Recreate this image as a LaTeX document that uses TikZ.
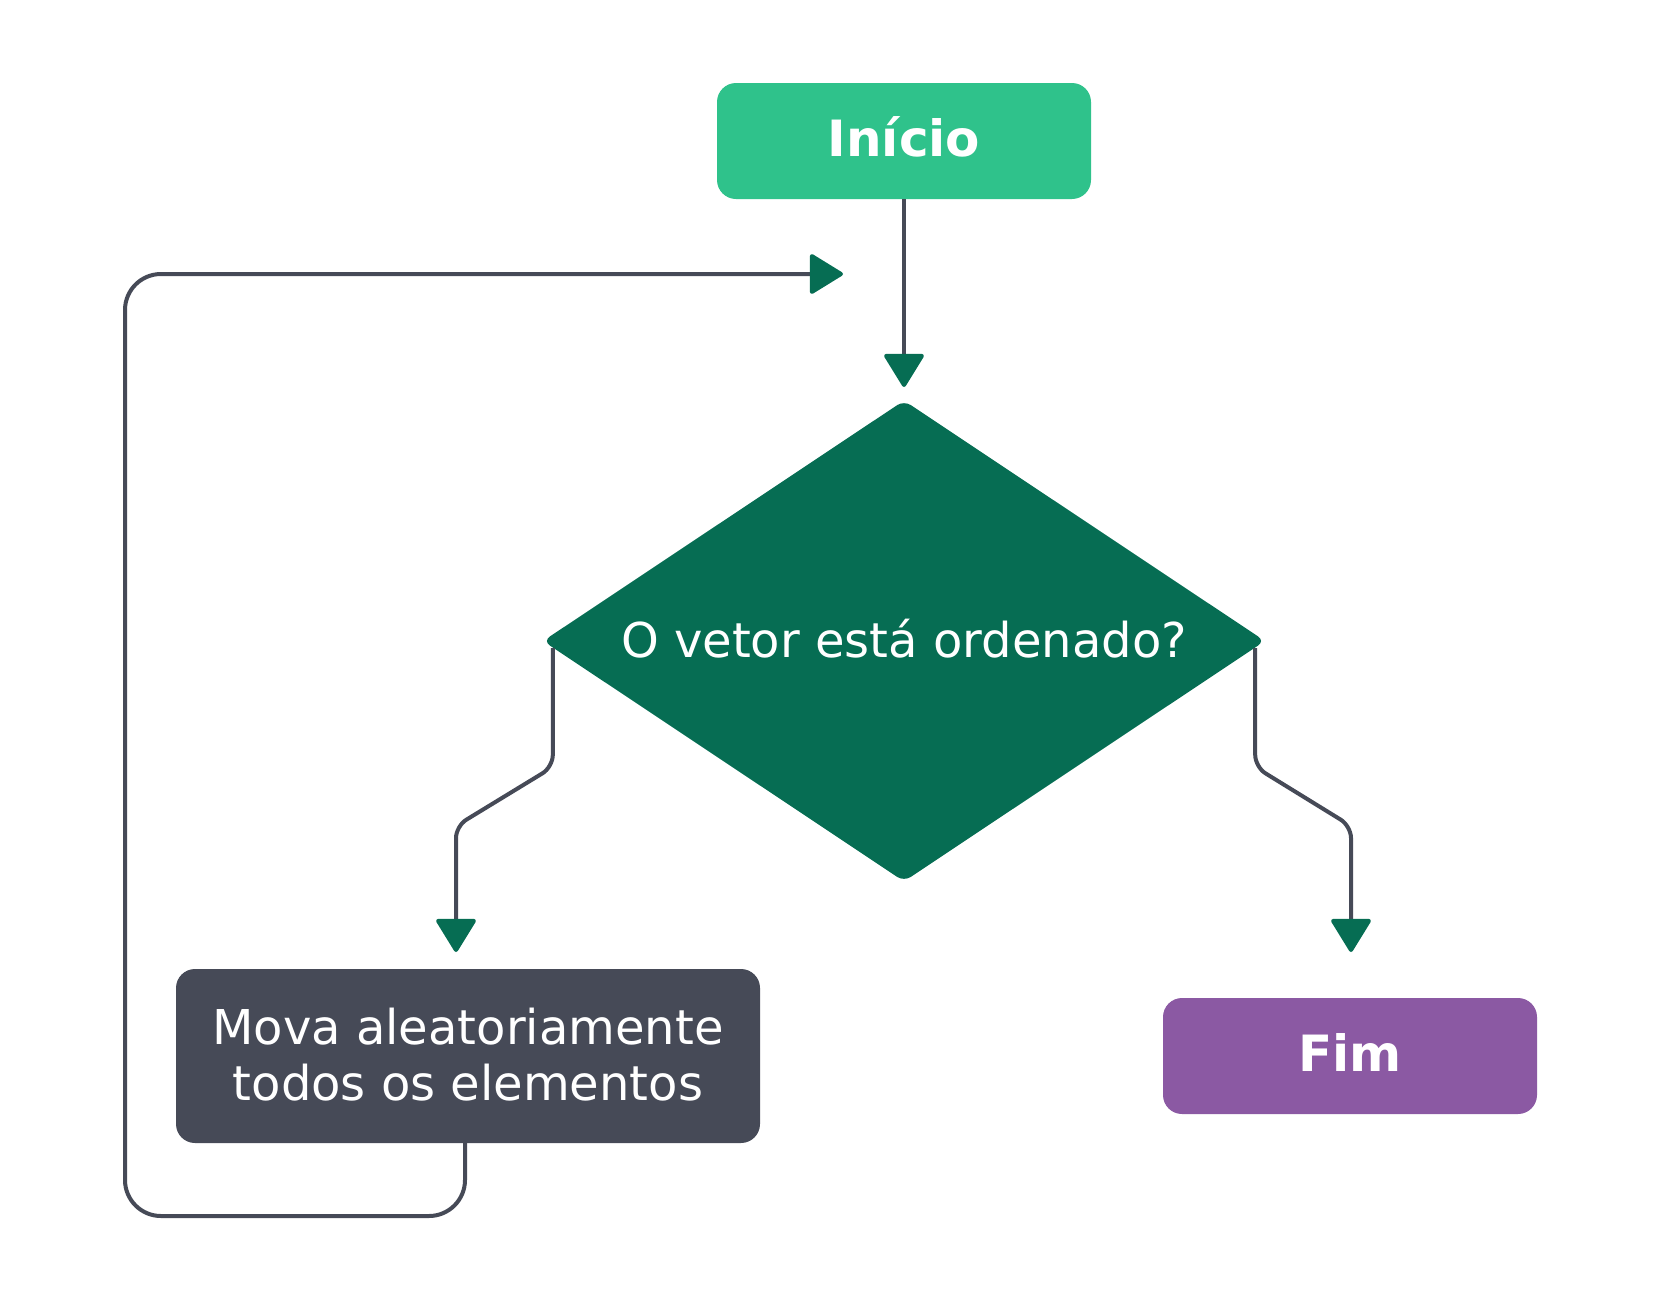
\documentclass[tikz,border=0pt]{standalone}
\usepackage{fontspec}
\setmainfont{DejaVu Sans}
\usetikzlibrary{arrows.meta,shapes.geometric}
\definecolor{startgreen}{HTML}{2FC28B}
\definecolor{decgreen}{HTML}{066D53}
\definecolor{slate}{HTML}{464A57}
\definecolor{endpurple}{HTML}{8B59A3}
\begin{document}
\begin{tikzpicture}[x=1pt,y=-1pt,
  box/.style={rectangle, rounded corners=19pt, inner sep=0pt, text=white, align=center},
  boldtxt/.style={font=\fontsize{50}{60}\selectfont\bfseries, text height=31pt, text depth=0pt},
  regtxt/.style={font=\fontsize{48}{56}\selectfont},
  conn/.style={draw=slate, line width=4pt, rounded corners=12pt,
    -{Triangle[length=35pt,width=42pt,color=decgreen,round]}},
  loopline/.style={draw=slate, line width=4pt, rounded corners=36pt,
    -{Triangle[length=35pt,width=42pt,color=decgreen,round]}}]
\useasboundingbox (0,0) rectangle (1661,1301);
% nodes
\node[box, fill=startgreen, minimum width=374pt, minimum height=116pt, boldtxt] (start) at (904,141) {Início};
\node[diamond, aspect=1.5, fill=decgreen, minimum width=722pt, minimum height=481pt, inner sep=0pt,
  rounded corners=8pt, text=white, regtxt, text height=32pt, text depth=0pt] (dec) at (904,641) {O vetor está ordenado?};
\node[box, fill=slate, minimum width=584pt, minimum height=174pt, regtxt] (mova) at (468,1056)
  {\raisebox{3pt}{Mova aleatoriamente}\\\raisebox{3pt}{todos os elementos}};
\node[box, fill=endpurple, minimum width=374pt, minimum height=116pt, boldtxt] (fim) at (1350,1056) {Fim};
% free ends of connectors
\coordinate (decTip) at (904,387);
\coordinate (movaTip) at (456,952);
\coordinate (fimTip) at (1351,952);
\coordinate (loopTip) at (843,274);
% connectors
\draw[conn] ([shift={(10,7)}]dec.west) -- ([shift={(10,126)}]dec.west) -- (456,826) -- (movaTip);
\draw[conn] ([shift={(-10,7)}]dec.east) -- ([shift={(-10,126)}]dec.east) -- (1351,826) -- (fimTip);
\draw[conn] (start.south) -- (decTip);
\draw[loopline] ([xshift=-3pt]mova.south) -- (465,1216) -- (125,1216) -- (125,274) -- (loopTip);
\end{tikzpicture}
\end{document}
